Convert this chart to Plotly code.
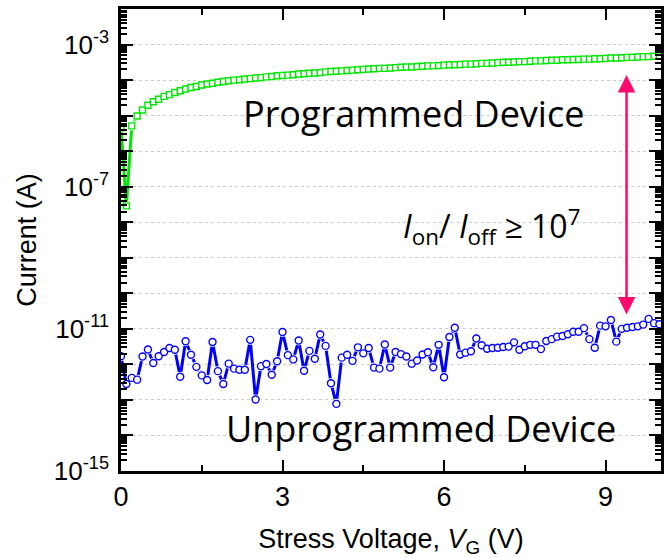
import numpy as np
import plotly.graph_objects as go

# Stress voltage sweep (V), 0.1 V steps
voltage = [round(0.1 * i, 1) for i in range(101)]

# log10 of current (A) for the programmed device
prog_log10_I = [
    -5.34, -7.54, -5.29, -5.01, -4.84, -4.71, -4.61, -4.54, -4.46, -4.41,
    -4.35, -4.30, -4.25, -4.21, -4.18, -4.14, -4.11, -4.09, -4.06, -4.04,
    -4.02, -4.00, -3.99, -3.97, -3.96, -3.94, -3.93, -3.91, -3.90, -3.88,
    -3.87, -3.86, -3.85, -3.83, -3.82, -3.81, -3.80, -3.79, -3.77, -3.76,
    -3.75, -3.74, -3.73, -3.72, -3.71, -3.70, -3.69, -3.68, -3.67, -3.67,
    -3.66, -3.65, -3.64, -3.63, -3.63, -3.62, -3.61, -3.60, -3.60, -3.59,
    -3.58, -3.57, -3.57, -3.56, -3.55, -3.55, -3.54, -3.53, -3.53, -3.52,
    -3.51, -3.50, -3.50, -3.49, -3.48, -3.48, -3.47, -3.46, -3.46, -3.45,
    -3.44, -3.44, -3.43, -3.43, -3.42, -3.42, -3.41, -3.41, -3.40, -3.40,
    -3.39, -3.38, -3.38, -3.37, -3.36, -3.36, -3.35, -3.34, -3.34, -3.33,
    -3.32,
]

# log10 of current (A) for the unprogrammed device
unprog_log10_I = [
    -11.77, -12.55, -12.38, -12.43, -11.78, -11.58, -11.96, -11.77, -11.65, -11.54,
    -11.59, -12.35, -11.35, -11.73, -12.07, -12.31, -12.44, -11.37, -12.19, -12.55,
    -11.98, -12.12, -12.15, -12.15, -11.31, -12.99, -12.05, -11.99, -12.29, -11.91,
    -11.09, -11.74, -11.86, -11.33, -12.18, -11.62, -11.84, -11.16, -11.48, -12.53,
    -13.11, -11.81, -11.73, -11.90, -11.52, -11.69, -11.54, -12.09, -12.12, -11.44,
    -12.09, -11.65, -11.71, -11.78, -11.98, -11.89, -11.72, -11.66, -12.08, -11.45,
    -12.36, -11.23, -10.97, -11.72, -11.67, -11.63, -11.27, -11.46, -11.56, -11.54,
    -11.53, -11.51, -11.50, -11.38, -11.59, -11.49, -11.45, -11.45, -11.57, -11.34,
    -11.29, -11.22, -11.20, -11.15, -11.08, -11.08, -10.98, -11.29, -11.53, -10.91,
    -10.93, -10.75, -11.36, -11.00, -10.97, -10.95, -10.93, -10.88, -10.72, -10.84,
    -10.87,
]

# y-axis decades and labels
decades = list(range(-15, -1))
labelled_decades = [-15, -11, -7, -3]

I_prog = 10 ** np.array(prog_log10_I)
I_unprog = 10 ** np.array(unprog_log10_I)

GREEN = "#00e600"
BLUE = "#0000ff"
PINK = "#ff0a6c"

fig = go.Figure()


def add_series(x, y, color, symbol, size):
    # connecting line
    fig.add_trace(go.Scatter(x=x, y=y, mode="lines",
                             line=dict(color=color, width=3),
                             hoverinfo="skip", showlegend=False))
    # white halo that leaves a small gap between the line and each symbol
    fig.add_trace(go.Scatter(x=x, y=y, mode="markers",
                             marker=dict(symbol=symbol, size=size + 3, color="white",
                                         line=dict(width=0)),
                             hoverinfo="skip", showlegend=False))
    # open symbols
    fig.add_trace(go.Scatter(x=x, y=y, mode="markers",
                             marker=dict(symbol=symbol, size=size, color="white",
                                         line=dict(color=color, width=1.4)),
                             showlegend=False))


add_series(voltage, I_prog, GREEN, "square", 6)
add_series(voltage, I_unprog, BLUE, "circle", 7)

ticktext = [f"10<sup>{d}</sup>" if d in labelled_decades else "" for d in decades]

fig.update_layout(
    width=664, height=558,
    margin=dict(l=121, r=0, t=9, b=87),
    plot_bgcolor="white", paper_bgcolor="white",
    font=dict(family="Liberation Sans, Arial, sans-serif", color="black"),
    xaxis=dict(
        range=[0, 10.03],
        tickmode="array", tickvals=[0, 3, 6, 9], ticktext=["0", "3", "6", "9"],
        ticks="inside", ticklen=11, tickwidth=2, tickcolor="black",
        minor=dict(tickvals=[1.5, 4.5, 7.5], ticks="inside", ticklen=6,
                   tickwidth=2, tickcolor="black", showgrid=False),
        showline=True, linewidth=2.5, linecolor="black", mirror="ticks",
        showgrid=False, zeroline=False,
        tickfont=dict(size=27),
        title=dict(text="Stress Voltage, <i>V</i><sub>G</sub> (V)",
                   font=dict(size=27), standoff=26),
    ),
    yaxis=dict(
        type="log", range=[-15, -2],
        tickmode="array", tickvals=[10.0 ** d for d in decades], ticktext=ticktext,
        ticks="inside", ticklen=12, tickwidth=2, tickcolor="black",
        minor=dict(dtick="D1", ticks="inside", ticklen=6, tickwidth=2,
                   tickcolor="black", showgrid=False),
        showline=True, linewidth=2.5, linecolor="black", mirror="ticks",
        showgrid=True, gridcolor="#cccccc", griddash="dot", gridwidth=1,
        zeroline=False,
        tickfont=dict(size=26),
        ticklabelstandoff=4,
        title=dict(text="Current (A)", font=dict(size=27), standoff=10),
    ),
)

ann_font = "Open Sans, Noto Sans, sans-serif"
fig.add_annotation(x=5.43, y=-4.93, xref="x", yref="y", text="Programmed Device",
                   showarrow=False, font=dict(family=ann_font, size=36, color="black"),
                   xanchor="center", yanchor="middle")
fig.add_annotation(x=5.58, y=-13.79, xref="x", yref="y", text="Unprogrammed Device",
                   showarrow=False, font=dict(family=ann_font, size=36, color="black"),
                   xanchor="center", yanchor="middle")
fig.add_annotation(x=6.88, y=-8.12, xref="x", yref="y",
                   text="<i>I</i><sub>on</sub>/ <i>I</i><sub>off</sub> ≥ 10<sup>7</sup>",
                   showarrow=False, font=dict(family=ann_font, size=32, color="black"),
                   xanchor="center", yanchor="middle")

# double-headed ratio arrow
fig.add_annotation(x=9.39, y=-3.86, ax=9.39, ay=-10.64,
                   xref="x", yref="y", axref="x", ayref="y",
                   text="", showarrow=True, arrowside="end+start",
                   arrowhead=2, arrowsize=1.4, arrowwidth=2.5, arrowcolor=PINK)

fig.write_html("out.html")
